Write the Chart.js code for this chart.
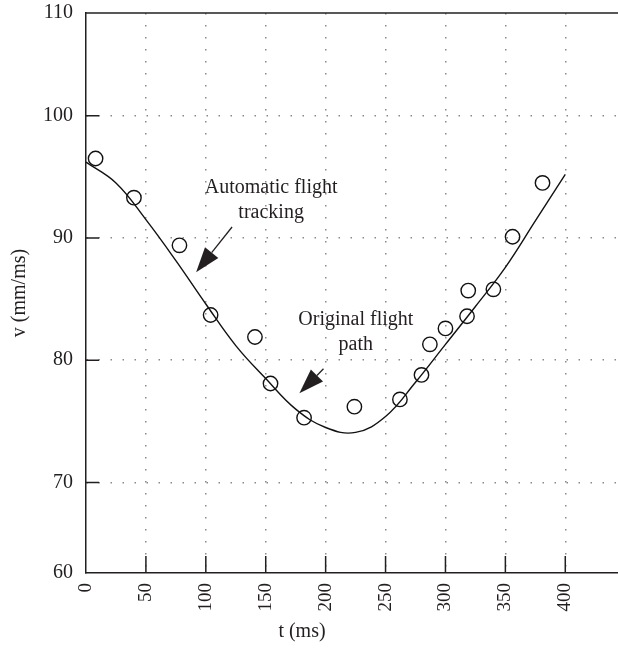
<!DOCTYPE html>
<html>
<head>
    <title>Flight tracking speed</title>
    <script src="https://cdn.jsdelivr.net/npm/chart.js"></script>
    <style>
        body { margin: 0; background: #fff; }
    </style>
</head>
<body>
    <canvas id="speedChart" width="618" height="648"></canvas>

    <script>
        // measured points (open circles)
        const sampleT = [8, 40, 78, 104, 141, 154, 182, 224, 262, 280, 287, 300, 318, 319, 340, 356, 381];
        const sampleV = [96.5, 93.3, 89.4, 83.7, 81.9, 78.1, 75.3, 76.2, 76.8, 78.8, 81.3, 82.6, 83.6, 85.7, 85.8, 90.1, 94.5];

        // tracking curve
        const fitT = [0, 25, 50, 75, 100, 125, 150, 175, 200, 225, 250, 275, 300, 325, 350, 375, 400];
        const fitV = [96.2, 94.5, 91.5, 88.15, 84.6, 81.2, 78.5, 76.0, 74.5, 74.1, 75.4, 78.2, 81.3, 84.4, 87.6, 91.4, 95.2];

        const tTicks = [0, 50, 100, 150, 200, 250, 300, 350, 400];
        const vTicks = [62.6, 70, 80, 90, 100, 108.4];
        const vTickLabels = ['60', '70', '80', '90', '100', '110'];

        const serif = 'Liberation Serif';
        const ink = '#231f20';

        const extras = {
            id: 'extras',
            afterDraw(chart) {
                const ctx = chart.ctx;
                const area = chart.chartArea;
                const xs = chart.scales.x, ys = chart.scales.y;
                ctx.save();
                ctx.strokeStyle = ink;
                ctx.fillStyle = ink;

                // top border
                ctx.lineWidth = 1.5;
                ctx.beginPath();
                ctx.moveTo(area.left, area.top);
                ctx.lineTo(area.right, area.top);
                ctx.stroke();

                // inner tick marks
                ctx.lineWidth = 1.5;
                ctx.beginPath();
                [70, 80, 90, 100].forEach(v => {
                    const y = ys.getPixelForValue(v);
                    ctx.moveTo(area.left, y);
                    ctx.lineTo(area.left + 13, y);
                });
                tTicks.slice(1).forEach(t => {
                    const x = xs.getPixelForValue(t);
                    ctx.moveTo(x, area.bottom);
                    ctx.lineTo(x, area.bottom - 17);
                });
                ctx.stroke();

                // annotations
                function arrow(t0, v0, t1, v1) {
                    const x0 = xs.getPixelForValue(t0), y0 = ys.getPixelForValue(v0);
                    const x1 = xs.getPixelForValue(t1), y1 = ys.getPixelForValue(v1);
                    const a = Math.atan2(y1 - y0, x1 - x0);
                    const len = 25, half = 8.5;
                    const bx = x1 - len * Math.cos(a), by = y1 - len * Math.sin(a);
                    ctx.lineWidth = 1.3;
                    ctx.beginPath();
                    ctx.moveTo(x0, y0);
                    ctx.lineTo(bx, by);
                    ctx.stroke();
                    ctx.beginPath();
                    ctx.moveTo(x1, y1);
                    ctx.lineTo(bx + half * Math.sin(a), by - half * Math.cos(a));
                    ctx.lineTo(bx - half * Math.sin(a), by + half * Math.cos(a));
                    ctx.closePath();
                    ctx.fill();
                }
                function label(lines, t, v) {
                    ctx.font = '20px "' + serif + '"';
                    ctx.textAlign = 'center';
                    ctx.textBaseline = 'middle';
                    const x = xs.getPixelForValue(t);
                    const y = ys.getPixelForValue(v);
                    lines.forEach((s, i) => ctx.fillText(s, x, y + i * 25));
                }
                label(['Automatic flight', 'tracking'], 154.5, 94.1);
                arrow(121.9, 90.9, 91.9, 87.2);
                label(['Original flight', 'path'], 225.2, 83.3);
                arrow(198.2, 79.3, 178.1, 77.3);

                // x axis title
                ctx.font = '20px "' + serif + '"';
                ctx.textAlign = 'center';
                ctx.textBaseline = 'middle';
                ctx.fillText('t (ms)', 302, 632);
                ctx.restore();
            }
        };

        const gridColor = '#8a8a8a';

        new Chart(document.getElementById('speedChart'), {
            data: {
                datasets: [{
                    type: 'scatter',
                    data: sampleT.map((t, i) => ({ x: t, y: sampleV[i] })),
                    pointRadius: 7.2,
                    pointBorderWidth: 1.4,
                    pointBorderColor: '#111',
                    pointBackgroundColor: 'rgba(0,0,0,0)'
                }, {
                    type: 'line',
                    data: fitT.map((t, i) => ({ x: t, y: fitV[i] })),
                    borderColor: '#111',
                    borderWidth: 1.4,
                    pointRadius: 0,
                    tension: 0.4,
                    fill: false
                }]
            },
            options: {
                responsive: false,
                animation: false,
                layout: { autoPadding: false, padding: { top: 13, right: 0, left: 0, bottom: 0 } },
                plugins: {
                    legend: { display: false },
                    tooltip: { enabled: false }
                },
                scales: {
                    x: {
                        type: 'linear',
                        min: 0,
                        max: 444,
                        afterBuildTicks: s => { s.ticks = tTicks.map(v => ({ value: v })); },
                        afterFit: s => { s.height = 75; s.paddingLeft = 0; s.paddingRight = 0; },
                        ticks: {
                            minRotation: 90,
                            maxRotation: 90,
                            padding: 10,
                            color: ink,
                            font: { family: serif, size: 19 }
                        },
                        grid: {
                            drawTicks: false,
                            lineWidth: 1.5,
                            color: c => (c.tick && c.tick.value === 0) ? 'rgba(0,0,0,0)' : gridColor
                        },
                        border: { color: ink, width: 1.5, dash: [1.5, 10.5] }
                    },
                    y: {
                        type: 'linear',
                        min: vTicks[0],
                        max: vTicks[vTicks.length - 1],
                        afterBuildTicks: s => { s.ticks = vTicks.map(v => ({ value: v })); },
                        afterFit: s => { s.width = 86; s.paddingTop = 0; s.paddingBottom = 0; },
                        ticks: {
                            padding: 13,
                            color: ink,
                            font: { family: serif, size: 20 },
                            callback: (value, index) => vTickLabels[index]
                        },
                        grid: {
                            drawTicks: false,
                            lineWidth: 1.5,
                            color: c => (c.tick && (c.index === 0 || c.index === vTicks.length - 1)) ? 'rgba(0,0,0,0)' : gridColor
                        },
                        border: { color: ink, width: 1.5, dash: [1.5, 10.5] },
                        title: {
                            display: true,
                            text: 'v (mm/ms)',
                            color: ink,
                            font: { family: serif, size: 20 },
                            padding: { top: 8, bottom: 0 }
                        }
                    }
                }
            },
            plugins: [extras]
        });
    </script>
</body>
</html>
